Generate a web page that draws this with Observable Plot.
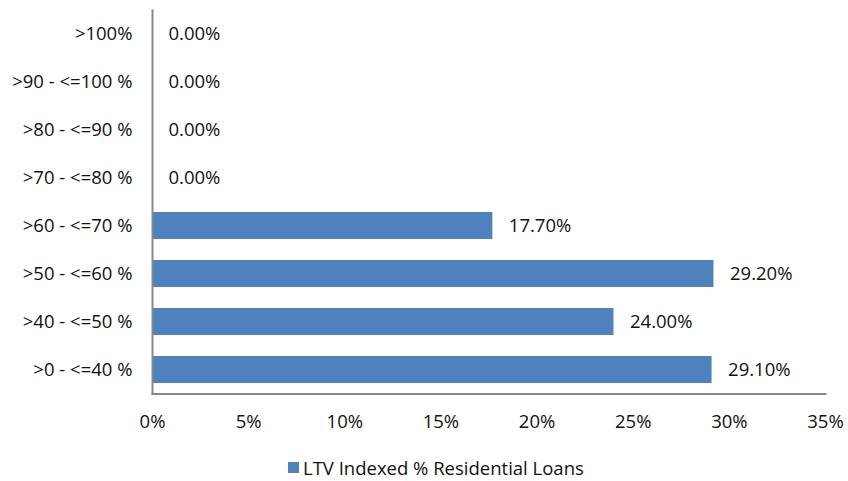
<!DOCTYPE html>
<html>
<head>
<meta charset="utf-8">
<script src="https://cdn.jsdelivr.net/npm/d3@7"></script>
<script src="https://cdn.jsdelivr.net/npm/@observablehq/plot@0.6"></script>
<style>
  html, body { margin: 0; padding: 0; background: #fff; }
  body { width: 848px; height: 481px; overflow: hidden; font-family: "Open Sans", sans-serif; color: #111; }
  #legend { position: relative; height: 41px; font-size: 18.5px; }
  #legend .item { position: absolute; left: 288px; top: 15px; display: flex; align-items: center; white-space: nowrap; }
  #legend .sw { width: 11px; height: 11px; background: #4F81BD; margin-right: 4px; }
</style>
</head>
<body>
<div id="chart"></div>
<div id="legend"><div class="item"><span class="sw"></span><span>LTV Indexed % Residential Loans</span></div></div>
<script>
const categories = [">100%", ">90 - <=100 %", ">80 - <=90 %", ">70 - <=80 %", ">60 - <=70 %", ">50 - <=60 %", ">40 - <=50 %", ">0 - <=40 %"];
const values = [0.00, 0.00, 0.00, 0.00, 17.70, 29.20, 24.00, 29.10];
const xTicks = [0, 5, 10, 15, 20, 25, 30, 35];
const seriesName = "LTV Indexed % Residential Loans";

const data = categories.map((c, i) => ({category: c, value: values[i]}));

const chart = Plot.plot({
  width: 848,
  height: 440,
  marginLeft: 152,
  marginRight: 23,
  marginTop: 10,
  marginBottom: 46.5,
  style: {fontFamily: "Open Sans, sans-serif", fontSize: "18.5px", color: "#111", background: "#fff"},
  x: {domain: [0, 35], ticks: xTicks, tickFormat: d => d + "%", tickSize: 0, tickPadding: 21, label: null},
  y: {domain: categories, paddingInner: 0.44, paddingOuter: 0.2, tickSize: 0, tickPadding: 20, label: null},
  marks: [
    Plot.barX(data, {x: "value", y: "category", fill: "#4F81BD"}),
    Plot.frame({anchor: "left", stroke: "#878787", strokeWidth: 2}),
    Plot.frame({anchor: "bottom", stroke: "#878787", strokeWidth: 2}),
    Plot.text(data, {x: "value", y: "category", text: d => d.value.toFixed(2) + "%", textAnchor: "start", dx: 16, fill: "#111"})
  ]
});
document.getElementById("chart").appendChild(chart);
</script>
</body>
</html>
